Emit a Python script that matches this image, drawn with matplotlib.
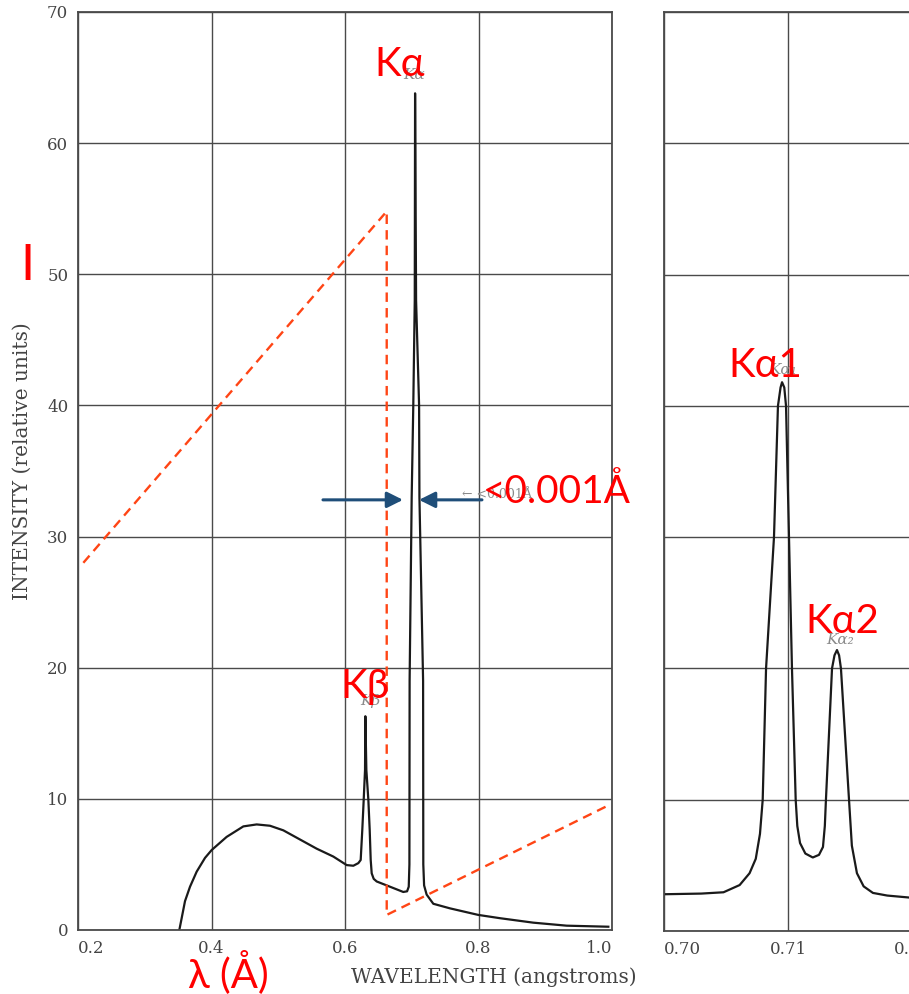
import matplotlib
matplotlib.use("Agg")
import matplotlib.pyplot as plt

# ---------------- data ----------------
# Full spectrum (left panel), wavelength in angstroms vs relative intensity
spec_wavelength = [0.3518, 0.3553, 0.3603, 0.3678, 0.3778, 0.3903, 0.4003, 0.4227, 0.4477,
                   0.4677, 0.4876, 0.5076, 0.5326, 0.5576, 0.5825, 0.6025, 0.6125, 0.6200,
                   0.6235, 0.6259, 0.6280, 0.6300, 0.6305, 0.6320, 0.6350, 0.6370, 0.6385,
                   0.6400, 0.6430, 0.6475, 0.6674, 0.6873, 0.6930, 0.6955, 0.6965, 0.6968,
                   0.6999, 0.7023, 0.7045, 0.7050, 0.7065, 0.7110, 0.7115, 0.7170, 0.7173,
                   0.7185, 0.7223, 0.7323, 0.7573, 0.7997, 0.8322, 0.8820, 0.9320, 0.9945]
spec_intensity = [0.0, 0.9, 2.2, 3.3, 4.45, 5.5, 6.1, 7.1, 7.9,
                  8.05, 7.95, 7.6, 6.9, 6.2, 5.6, 4.95, 4.9, 5.1,
                  5.34, 7.63, 9.91, 12.2, 16.3, 12.2, 9.91, 7.63, 5.34,
                  4.32, 3.9, 3.7, 3.3, 2.9, 2.95, 3.3, 5.0, 19.0,
                  33.0, 40.0, 48.0, 63.8, 48.0, 40.0, 33.0, 19.0, 5.0,
                  3.4, 2.7, 2.0, 1.65, 1.15, 0.9, 0.56, 0.33, 0.25]

# Resolved K-alpha doublet (right panel)
doublet_wavelength = [0.7000, 0.7030, 0.7048, 0.7061, 0.7069, 0.7074, 0.70774, 0.70796,
                      0.70823, 0.70887, 0.70919, 0.7094, 0.70952, 0.7097, 0.70984, 0.71008,
                      0.71032, 0.71062, 0.71075, 0.71097, 0.7114, 0.7120, 0.7125, 0.71282,
                      0.71297, 0.71306, 0.71355, 0.71375, 0.71395, 0.71412, 0.71427, 0.71492,
                      0.71515, 0.71556, 0.7161, 0.71685, 0.7180, 0.71976, 0.7210]
doublet_intensity = [2.8, 2.85, 2.95, 3.5, 4.4, 5.5, 7.4, 10.0,
                     20.0, 30.0, 40.0, 41.4, 41.8, 41.4, 40.0, 30.0,
                     20.0, 10.0, 8.0, 6.7, 5.9, 5.6, 5.8, 6.4,
                     8.0, 10.0, 20.0, 21.0, 21.4, 21.0, 20.0, 10.0,
                     6.5, 4.4, 3.4, 2.9, 2.7, 2.55, 2.5]

y_ticks = [0, 10, 20, 30, 40, 50, 60, 70]
y_tick_labels = ["0", "10", "20", "30", "40", "50", "60", "70"]
x_ticks_left = [0.2, 0.4, 0.6, 0.8, 1.0]
x_tick_labels_left = ["0.2", "0.4", "0.6", "0.8", "1.0"]
x_ticks_right = [0.70, 0.71, 0.72]
x_tick_labels_right = ["0.70", "0.71", "0.72"]

# red dashed guide (triangle) drawn over the spectrum
guide_x = [0.208, 0.6625, 0.6625, 0.9945]
guide_y = [28.0, 54.8, 1.15, 9.5]

# ---------------- figure ----------------
W, H = 909, 994
fig = plt.figure(figsize=(W / 100, H / 100), dpi=100)
fig.patch.set_facecolor("white")


def px_rect(x0, y0, x1, y1):
    return [x0 / W, 1 - y1 / H, (x1 - x0) / W, (y1 - y0) / H]


ax = fig.add_axes(px_rect(78, 12, 612, 930))
ax2 = fig.add_axes(px_rect(664, 12, 912, 931))

grid_col = "#4a4a4a"
serif = "DejaVu Serif"
red_fam = ["Lato", "DejaVu Sans"]

for a in (ax, ax2):
    a.set_ylim(0, 70)
    a.set_yticks(y_ticks)
    a.grid(True, color=grid_col, lw=1.0)
    a.set_axisbelow(True)
    a.tick_params(length=0, colors="#444444", labelsize=12)
    for s in a.spines.values():
        s.set_color(grid_col)
        s.set_linewidth(1.3)

ax.set_xlim(0.2, 1.0)
ax.set_xticks(x_ticks_left)
ax.set_xticklabels(x_tick_labels_left, family=serif, color="#444444", fontsize=12)
ax.set_yticklabels(y_tick_labels, family=serif, color="#444444", fontsize=12)
ax.tick_params(axis="x", pad=7)
ax.tick_params(axis="y", pad=7)
xl = ax.get_xticklabels()
xl[0].set_horizontalalignment("left")
xl[-1].set_horizontalalignment("right")

ax2.set_xlim(0.70, 0.72)
ax2.set_xticks(x_ticks_right)
ax2.set_xticklabels(x_tick_labels_right, family=serif, color="#444444", fontsize=12)
ax2.set_yticklabels([])
ax2.tick_params(axis="x", pad=7)
ax2.get_xticklabels()[0].set_horizontalalignment("left")

# spectra
ax.plot(spec_wavelength, spec_intensity, color="#1a1a1a", lw=1.6, solid_joinstyle="round")
ax2.plot(doublet_wavelength, doublet_intensity, color="#1a1a1a", lw=1.6, solid_joinstyle="round")

# original (faint) peak labels from the scanned figure
gray = "#8a8a8a"
ax.text(0.7034, 65.2, "Kα", color=gray, fontsize=11, style="italic", family=serif,
        ha="center", va="center")
ax.text(0.6375, 17.5, "Kβ", color=gray, fontsize=11, style="italic", family=serif,
        ha="center", va="center")
ax.text(0.8277, 33.2, "← <0.001Å", color=gray, fontsize=9, family=serif,
        ha="center", va="center")
ax2.text(0.7096, 42.7, "Kα₁", color=gray, fontsize=11, style="italic", family=serif,
         ha="center", va="center")
ax2.text(0.71419, 22.2, "Kα₂", color=gray, fontsize=11, style="italic", family=serif,
         ha="center", va="center")

# axis titles (original)
fig.text(22 / W, 1 - 461 / H, "INTENSITY (relative units)", rotation=90, family=serif,
         fontsize=14.5, color="#444444", ha="center", va="center")
fig.text(494 / W, 1 - 977 / H, "WAVELENGTH (angstroms)", family=serif,
         fontsize=14.5, color="#444444", ha="center", va="center")

# red dashed guide
ax.plot(guide_x, guide_y, color="#FF4515", lw=1.7, ls=(0, (4, 2.6)), clip_on=False, zorder=5)

# blue arrows marking the line width
arrow_col = "#1F4E79"
ax.annotate("", xy=(0.6869, 32.8), xytext=(0.5670, 32.8),
            arrowprops=dict(arrowstyle="-|>", color=arrow_col, lw=2.2,
                            mutation_scale=24, shrinkA=0, shrinkB=0), zorder=6)
ax.annotate("", xy=(0.7109, 32.8), xytext=(0.8052, 32.8),
            arrowprops=dict(arrowstyle="-|>", color=arrow_col, lw=2.2,
                            mutation_scale=24, shrinkA=0, shrinkB=0), zorder=6)

# red annotation text
rkw = dict(color="#FF0000", family=red_fam, ha="center", va="center", zorder=7)
ax.text(0.6824, 66.0, "Kα", fontsize=29, **rkw)
ax.text(0.6300, 18.6, "Kβ", fontsize=29, **rkw)
ax.text(0.9176, 33.4, "<0.001Å", fontsize=28, clip_on=False, **rkw)
ax2.text(0.70815, 43.1, "Kα1", fontsize=29, **rkw)
ax2.text(0.71435, 23.6, "Kα2", fontsize=29, **rkw)
fig.text(27 / W, 1 - 266 / H, "I", fontsize=36, color="#FF0000", family=red_fam,
         ha="center", va="center")
fig.text(228 / W, 1 - 972 / H, "λ (Å)", fontsize=29, color="#FF0000", family=red_fam,
         ha="center", va="center")

fig.savefig("out.png", dpi=100, facecolor="white")
